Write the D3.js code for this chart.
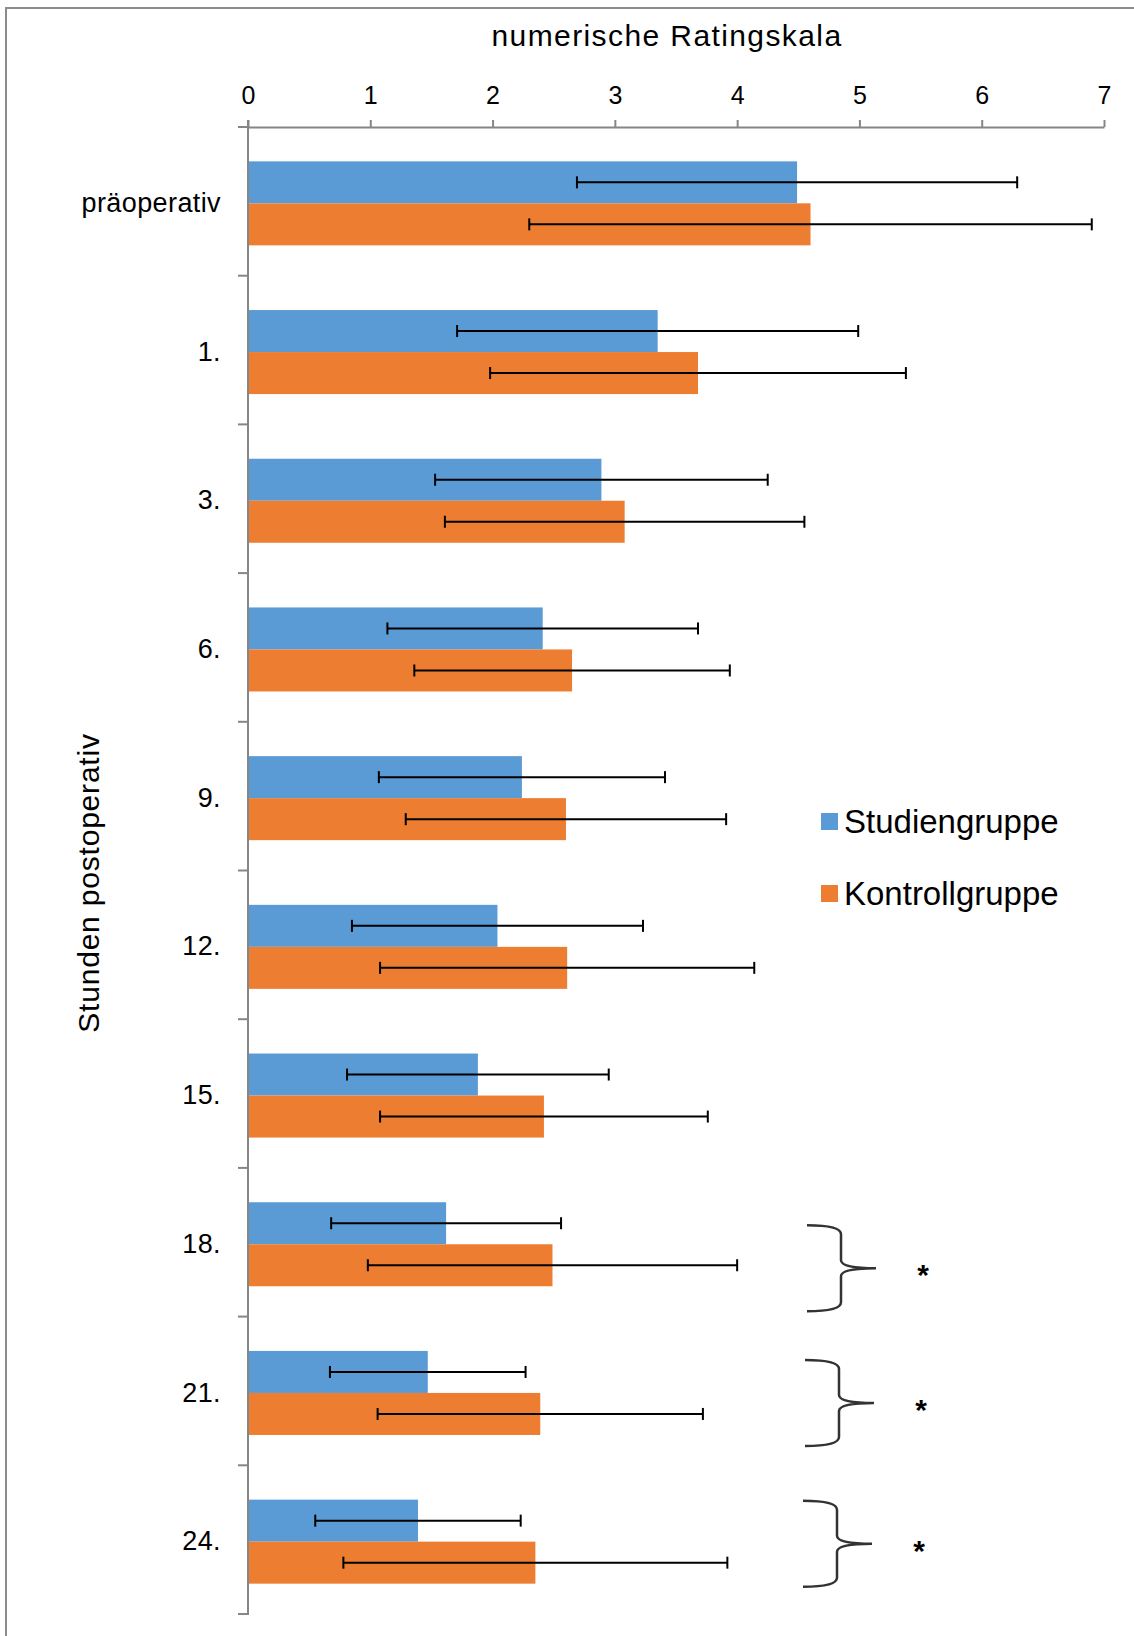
<!DOCTYPE html>
<html>
<head>
<meta charset="utf-8">
<script src="https://cdn.jsdelivr.net/npm/d3@7"></script>
<style>
  body { margin: 0; background: #fff; }
  svg text { font-family: "Liberation Sans", Arial, sans-serif; fill: #000; }
</style>
</head>
<body>
<div id="chart"></div>
<script>
// Chart data
var categories = ["präoperativ", "1.", "3.", "6.", "9.", "12.", "15.", "18.", "21.", "24."];
var seriesNames = ["Studiengruppe", "Kontrollgruppe"];
var studyMean = [4.49, 3.35, 2.89, 2.41, 2.24, 2.04, 1.88, 1.62, 1.47, 1.39];
var studySd   = [1.80, 1.64, 1.36, 1.27, 1.17, 1.19, 1.07, 0.94, 0.80, 0.84];
var controlMean = [4.60, 3.68, 3.08, 2.65, 2.60, 2.61, 2.42, 2.49, 2.39, 2.35];
var controlSd   = [2.30, 1.70, 1.47, 1.29, 1.31, 1.53, 1.34, 1.51, 1.33, 1.57];
var xTicks = [0, 1, 2, 3, 4, 5, 6, 7];
var significant = ["18.", "21.", "24."];

var colors = {"Studiengruppe": "#5B9BD5", "Kontrollgruppe": "#ED7D31"},
axisColor = "#868686",
width = 1134, height = 1636,
plotLeft = 248, plotRight = 1104, plotTop = 127, plotBottom = 1614,
barShift = 2; // bars sit a little low in the original

var svg = d3.select("#chart").append("svg")
  .attr("width", width).attr("height", height);

// outer frame (only top and left edges are visible)
svg.append("path")
  .attr("d", "M6," + height + "V8H" + width)
  .attr("fill", "none").attr("stroke", "#8c8c8c").attr("stroke-width", 2);

var x = d3.scaleLinear().domain([0, 7]).range([plotLeft, plotRight]);
var y = d3.scaleBand().domain(categories).range([plotTop, plotBottom])
  .paddingInner(0.435).paddingOuter(0.2175);
var ySub = d3.scaleBand().domain(seriesNames).range([0, y.bandwidth()]);

// rows for bars
var rows = [];
categories.forEach(function(c, i) {
  rows.push({cat: c, series: "Studiengruppe", mean: studyMean[i], sd: studySd[i]});
  rows.push({cat: c, series: "Kontrollgruppe", mean: controlMean[i], sd: controlSd[i]});
});

svg.append("g").selectAll("rect").data(rows).enter().append("rect")
  .attr("x", x(0))
  .attr("y", function(d){ return y(d.cat) + ySub(d.series) + barShift; })
  .attr("width", function(d){ return x(d.mean) - x(0); })
  .attr("height", ySub.bandwidth())
  .attr("fill", function(d){ return colors[d.series]; });

// error bars
var err = svg.append("g").attr("stroke", "#000").attr("stroke-width", 2);
rows.forEach(function(d) {
  var cy = y(d.cat) + ySub(d.series) + ySub.bandwidth() / 2 + barShift,
  x1 = x(d.mean - d.sd), x2 = x(d.mean + d.sd);
  err.append("line").attr("x1", x1).attr("x2", x2).attr("y1", cy).attr("y2", cy);
  err.append("line").attr("x1", x1).attr("x2", x1).attr("y1", cy - 6).attr("y2", cy + 6);
  err.append("line").attr("x1", x2).attr("x2", x2).attr("y1", cy - 6).attr("y2", cy + 6);
});

// x axis on top
var xAxis = svg.append("g").attr("transform", "translate(0," + plotTop + ")")
  .call(d3.axisTop(x).tickValues(xTicks).tickFormat(d3.format("d"))
    .tickSize(7).tickPadding(16).tickSizeOuter(0));
xAxis.select(".domain").attr("stroke", axisColor).attr("stroke-width", 2);
xAxis.selectAll(".tick line").attr("stroke", axisColor).attr("stroke-width", 2);
xAxis.selectAll(".tick text").attr("font-size", 25).attr("fill", "#000")
  .style("font-family", '"Liberation Sans", Arial, sans-serif').attr("dy", "0em");

// y axis: line and ticks on category boundaries
var yAx = svg.append("g").attr("stroke", axisColor).attr("stroke-width", 2);
yAx.append("line").attr("x1", plotLeft).attr("x2", plotLeft)
  .attr("y1", plotTop - 7).attr("y2", plotBottom + 1);
d3.range(categories.length + 1).forEach(function(i) {
  var yy = y.range()[0] + i * y.step();
  yAx.append("line").attr("x1", plotLeft - 10).attr("x2", plotLeft).attr("y1", yy).attr("y2", yy);
});

var yLabels = svg.append("g").attr("transform", "translate(" + plotLeft + "," + barShift + ")")
  .call(d3.axisLeft(y).tickSize(0).tickPadding(27));
yLabels.select(".domain").remove();
yLabels.selectAll(".tick text").attr("font-size", 27).attr("fill", "#000")
  .style("font-family", '"Liberation Sans", Arial, sans-serif')
  .attr("letter-spacing", 0.4);

// axis titles
svg.append("text").attr("x", 667).attr("y", 46).attr("text-anchor", "middle")
  .attr("font-size", 30).attr("letter-spacing", 1.4).text("numerische Ratingskala");
svg.append("text").attr("transform", "translate(99,883) rotate(-90)")
  .attr("text-anchor", "middle").attr("font-size", 30).attr("letter-spacing", 0.8)
  .text("Stunden postoperativ");

// legend
var legend = svg.append("g").attr("transform", "translate(821,813)");
seriesNames.forEach(function(s, i) {
  legend.append("rect").attr("x", 0).attr("y", i * 72).attr("width", 17).attr("height", 17)
    .attr("fill", colors[s]);
  legend.append("text").attr("x", 23).attr("y", i * 72 + 20).attr("font-size", 33).text(s);
});

// significance braces
var braceNudge = [24, 10, 2];
var braces = svg.append("g");
significant.forEach(function(c, i) {
  var mid = y(c) + y.bandwidth() / 2 + barShift + braceNudge[i],
  top = mid - 43, bot = mid + 43,
  xl = 807 - i * 2, xv = 841 - i * 2, xt = 876 - i * 2;
  braces.append("path")
    .attr("d", "M" + xl + "," + top + "Q" + xv + "," + top + " " + xv + "," + (top + 9) +
      "V" + (mid - 8) + "Q" + xv + "," + mid + " " + xt + "," + mid +
      "Q" + xv + "," + mid + " " + xv + "," + (mid + 8) +
      "V" + (bot - 9) + "Q" + xv + "," + bot + " " + xl + "," + bot)
    .attr("fill", "none").attr("stroke", "#333").attr("stroke-width", 2.5);
  braces.append("text").attr("x", 923 - i * 2).attr("y", mid + 17)
    .attr("text-anchor", "middle").attr("font-size", 30).attr("font-weight", "bold").text("*");
});
</script>
</body>
</html>
